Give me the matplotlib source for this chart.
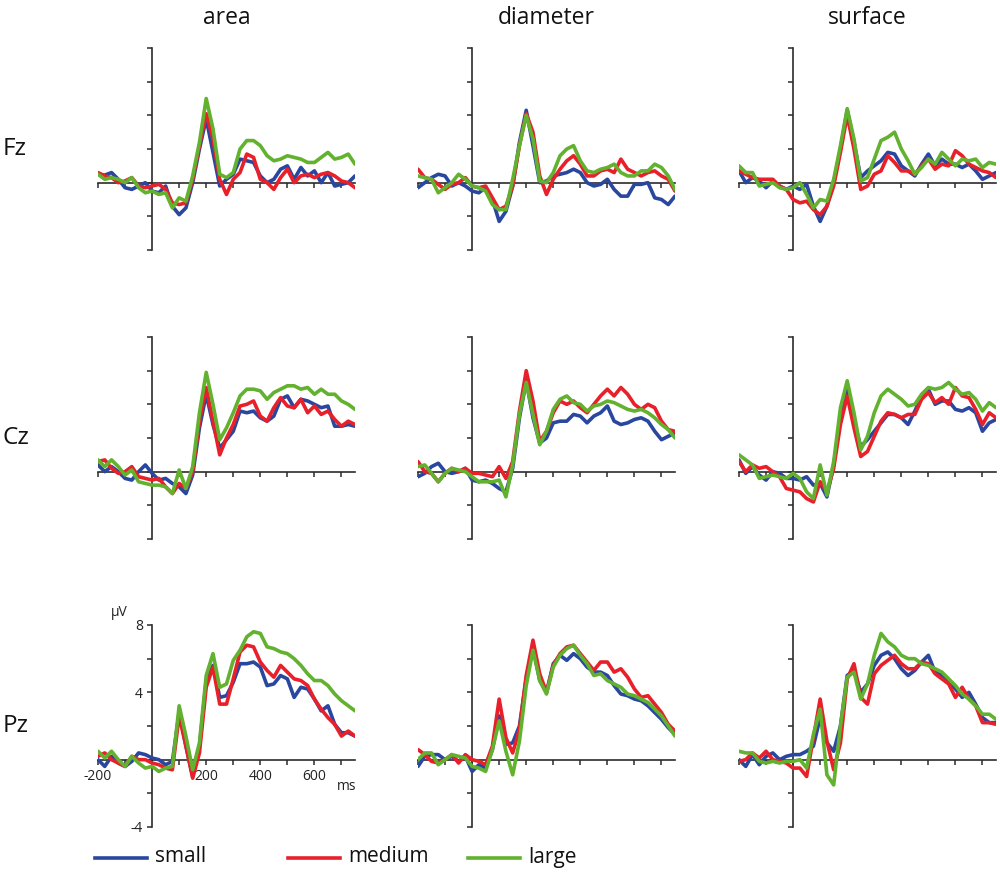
import numpy as np
import matplotlib
matplotlib.use("Agg")
import matplotlib.pyplot as plt
from matplotlib.lines import Line2D

plt.rcParams['font.family'] = ['Open Sans', 'DejaVu Sans']

# ---------------- data ----------------
TIMES = list(range(-200, 751, 25))          # ms
COLUMNS = ["area", "diameter", "surface"]
ROWS = ["Fz", "Cz", "Pz"]
CONDITIONS = ["small", "medium", "large"]
COLORS = ["#2a47a0", "#e8202a", "#62b22f"]

FZ_AREA_SMALL = [0.5, 0.45, 0.6, 0.2, -0.3, -0.4, -0.2, 0.0, -0.5, -0.6, -0.2, -1.4, -1.9, -1.5, 0.0, 2.0, 3.8, 1.8, -0.2, 0.2, 0.5, 1.4, 1.3, 1.2, 0.4, 0.0, 0.2, 0.8, 1.0, 0.2, 0.9, 0.4, 0.7, 0.0, 0.6, -0.2, -0.1, 0.0, 0.4]
FZ_AREA_MEDIUM = [0.6, 0.4, 0.3, 0.0, 0.1, 0.3, -0.2, -0.3, -0.2, -0.1, -0.4, -1.2, -1.3, -1.2, 0.2, 2.2, 4.1, 2.6, 0.2, -0.7, 0.2, 0.6, 1.7, 1.5, 0.2, 0.0, -0.4, 0.3, 0.8, 0.0, 0.4, 0.5, 0.3, 0.5, 0.6, 0.4, 0.1, 0.0, -0.3]
FZ_AREA_LARGE = [0.5, 0.2, 0.3, 0.2, 0.0, 0.3, -0.3, -0.6, -0.5, -0.7, -0.6, -1.5, -0.9, -1.1, 0.4, 2.4, 5.0, 3.2, 0.5, 0.3, 0.6, 2.0, 2.5, 2.5, 2.2, 1.6, 1.3, 1.4, 1.6, 1.5, 1.4, 1.2, 1.2, 1.5, 1.8, 1.4, 1.5, 1.7, 1.1]

FZ_DIAM_SMALL = [-0.3, 0.0, 0.3, 0.5, 0.4, -0.2, 0.0, -0.2, -0.5, -0.6, -0.3, -1.0, -2.3, -1.7, -0.2, 2.4, 4.3, 2.2, 0.0, 0.1, 0.4, 0.5, 0.6, 0.8, 0.6, 0.0, -0.2, -0.1, 0.2, -0.4, -0.8, -0.8, -0.1, -0.1, 0.0, -0.9, -1.0, -1.3, -0.8]
FZ_DIAM_MEDIUM = [0.8, 0.3, 0.2, -0.1, -0.4, -0.1, 0.0, 0.3, -0.2, -0.3, -0.2, -0.9, -1.6, -1.4, -0.2, 2.2, 4.1, 3.0, 0.4, -0.7, 0.2, 0.8, 1.3, 1.6, 1.1, 0.4, 0.4, 0.7, 0.8, 0.6, 1.4, 0.8, 0.6, 0.4, 0.6, 0.7, 0.4, 0.2, -0.5]
FZ_DIAM_LARGE = [0.4, 0.3, 0.2, -0.6, -0.3, 0.0, 0.5, 0.2, -0.2, -0.3, -0.5, -1.3, -1.6, -1.6, 0.2, 2.2, 4.0, 2.6, 0.1, 0.0, 0.6, 1.6, 2.0, 2.2, 1.3, 0.7, 0.6, 0.8, 0.9, 1.1, 0.6, 0.4, 0.4, 0.7, 0.7, 1.1, 0.9, 0.4, -0.4]

FZ_SURF_SMALL = [0.7, 0.0, 0.3, 0.1, -0.3, 0.1, -0.2, -0.4, -0.2, -0.4, -0.1, -1.4, -2.3, -1.4, 0.0, 2.0, 4.3, 2.4, 0.3, 0.7, 1.0, 1.3, 1.8, 1.7, 1.0, 0.7, 0.4, 1.1, 1.7, 1.0, 1.4, 1.1, 1.1, 0.9, 1.1, 0.7, 0.2, 0.4, 0.6]
FZ_SURF_MEDIUM = [0.7, 0.5, 0.3, 0.2, 0.2, 0.2, -0.2, -0.4, -1.0, -1.2, -1.1, -1.6, -1.9, -1.4, -0.2, 1.8, 4.0, 2.0, -0.4, -0.2, 0.5, 0.7, 1.6, 1.2, 0.7, 0.7, 0.5, 1.0, 1.4, 0.8, 1.1, 1.0, 1.9, 1.6, 1.1, 0.9, 0.7, 0.6, 0.3]
FZ_SURF_LARGE = [1.0, 0.6, 0.6, -0.2, -0.1, 0.0, -0.3, -0.4, -0.3, 0.0, -0.7, -1.5, -1.0, -1.1, 0.2, 2.2, 4.4, 2.6, 0.1, 0.3, 1.4, 2.5, 2.7, 3.0, 2.0, 1.3, 0.5, 0.9, 1.4, 1.1, 1.8, 1.4, 1.0, 1.4, 1.3, 1.4, 0.9, 1.2, 1.1]

CZ_AREA_SMALL = [0.4, 0.0, 0.3, 0.0, -0.4, -0.5, 0.0, 0.4, -0.1, -0.5, -0.4, -0.7, -0.9, -1.3, -0.2, 2.6, 4.6, 2.8, 1.4, 1.9, 2.4, 3.6, 3.5, 3.6, 3.2, 3.0, 3.3, 4.3, 4.5, 3.8, 4.3, 4.2, 4.0, 3.8, 3.9, 2.7, 2.7, 2.8, 2.7]
CZ_AREA_MEDIUM = [0.6, 0.7, 0.2, -0.1, 0.0, 0.3, -0.3, -0.4, -0.5, -0.4, -0.9, -1.3, -0.7, -1.0, 0.0, 3.0, 5.0, 3.0, 1.0, 2.0, 2.8, 3.9, 4.0, 4.2, 3.3, 3.0, 3.8, 4.4, 3.9, 3.8, 4.3, 3.5, 3.9, 3.4, 3.6, 3.1, 2.7, 3.0, 2.8]
CZ_AREA_LARGE = [0.7, 0.3, 0.7, 0.3, -0.2, 0.1, -0.6, -0.7, -0.8, -0.8, -0.9, -1.3, 0.1, -1.0, 0.3, 3.5, 5.9, 4.0, 1.9, 2.6, 3.5, 4.5, 4.9, 4.9, 4.8, 4.3, 4.7, 4.9, 5.1, 5.1, 4.9, 5.0, 4.6, 4.9, 4.6, 4.6, 4.2, 4.0, 3.7]

CZ_DIAM_SMALL = [-0.3, -0.1, 0.3, 0.5, 0.0, -0.1, 0.0, 0.2, -0.5, -0.6, -0.5, -0.7, -1.0, -1.2, 0.2, 3.2, 5.4, 3.2, 1.7, 2.0, 2.9, 3.0, 3.0, 3.4, 3.3, 2.9, 3.3, 3.5, 3.9, 3.0, 2.8, 2.9, 3.1, 3.2, 3.0, 2.4, 1.9, 2.1, 2.3]
CZ_DIAM_MEDIUM = [0.6, 0.0, -0.1, -0.6, -0.1, 0.2, 0.0, 0.2, -0.1, -0.1, -0.2, -0.3, 0.3, -0.4, 0.6, 3.6, 6.0, 4.2, 1.8, 2.4, 3.5, 4.2, 4.0, 4.2, 3.8, 3.5, 4.0, 4.5, 4.9, 4.5, 5.0, 4.6, 4.0, 3.7, 4.0, 3.8, 3.0, 2.5, 2.4]
CZ_DIAM_LARGE = [0.3, 0.4, -0.1, -0.6, -0.1, 0.2, 0.1, 0.0, -0.3, -0.6, -0.6, -0.6, -0.5, -1.5, 0.4, 3.4, 5.3, 3.4, 1.6, 2.4, 3.7, 4.3, 4.5, 4.1, 4.0, 3.6, 3.9, 4.0, 4.2, 4.1, 3.9, 3.7, 3.6, 3.7, 3.5, 3.2, 2.8, 2.5, 2.0]

CZ_SURF_SMALL = [0.7, -0.1, 0.3, -0.2, -0.5, 0.0, -0.1, -0.4, -0.4, -0.5, -0.3, -0.8, -0.7, -1.5, 0.4, 3.2, 4.9, 3.0, 1.5, 1.9, 2.4, 2.9, 3.4, 3.4, 3.2, 2.8, 3.6, 4.5, 4.9, 4.0, 4.2, 4.2, 3.7, 3.6, 3.8, 3.5, 2.4, 2.9, 3.1]
CZ_SURF_MEDIUM = [0.6, 0.0, 0.4, 0.2, 0.3, 0.0, -0.3, -1.0, -1.1, -1.2, -1.6, -1.8, -0.6, -1.2, 0.2, 2.8, 4.5, 2.6, 0.9, 1.2, 2.1, 3.0, 3.5, 3.4, 3.2, 3.4, 3.4, 4.3, 4.7, 4.1, 4.4, 4.0, 5.0, 4.5, 4.4, 3.7, 2.8, 3.5, 3.2]
CZ_SURF_LARGE = [1.0, 0.7, 0.4, -0.4, -0.3, -0.2, -0.3, -0.4, -0.1, -0.4, -1.2, -1.6, 0.4, -1.4, 0.6, 3.8, 5.4, 3.5, 1.3, 2.1, 3.5, 4.5, 4.9, 4.6, 4.3, 3.9, 4.0, 4.6, 5.0, 4.9, 5.0, 5.3, 4.9, 4.6, 4.7, 4.3, 3.6, 4.1, 3.8]

PZ_AREA_SMALL = [0.0, -0.4, 0.2, -0.2, -0.4, -0.1, 0.4, 0.3, 0.1, 0.0, -0.3, -0.1, 2.8, 0.8, -1.0, 0.8, 4.7, 5.6, 3.7, 3.8, 4.6, 5.7, 5.7, 5.8, 5.5, 4.4, 4.5, 5.0, 4.8, 3.7, 4.3, 4.2, 3.6, 2.9, 3.2, 2.1, 1.6, 1.6, 1.4]
PZ_AREA_MEDIUM = [0.2, 0.4, 0.0, -0.2, -0.4, 0.2, 0.0, 0.0, -0.2, -0.3, -0.5, -0.6, 2.6, 0.8, -1.1, 0.4, 4.3, 5.5, 3.3, 3.3, 4.8, 6.4, 6.8, 6.7, 5.8, 5.3, 4.9, 5.6, 5.2, 4.8, 4.7, 4.4, 3.6, 3.0, 2.5, 2.1, 1.4, 1.7, 1.4]
PZ_AREA_LARGE = [0.5, 0.1, 0.5, 0.0, -0.4, 0.2, -0.2, -0.5, -0.4, -0.7, -0.5, -0.4, 3.2, 1.4, -0.6, 1.0, 5.0, 6.3, 4.3, 4.5, 5.9, 6.5, 7.3, 7.6, 7.5, 6.7, 6.6, 6.4, 6.3, 6.0, 5.6, 5.1, 4.7, 4.7, 4.4, 3.9, 3.5, 3.2, 2.9]

PZ_DIAM_SMALL = [-0.4, 0.2, 0.3, 0.3, 0.0, 0.2, -0.1, 0.2, -0.7, -0.3, -0.5, 0.6, 2.6, 0.9, 1.0, 2.0, 4.8, 6.7, 4.7, 4.0, 5.7, 6.2, 5.9, 6.3, 6.0, 5.5, 5.2, 5.2, 5.0, 4.4, 3.9, 3.8, 3.6, 3.5, 3.2, 2.8, 2.4, 1.9, 1.5]
PZ_DIAM_MEDIUM = [0.6, 0.3, -0.1, -0.2, 0.0, 0.3, -0.2, 0.3, 0.0, -0.1, -0.3, 0.8, 3.6, 1.3, 0.4, 1.8, 5.0, 7.1, 5.1, 4.0, 5.6, 6.3, 6.7, 6.8, 6.3, 5.8, 5.3, 5.8, 5.8, 5.2, 5.4, 4.9, 4.2, 3.7, 3.8, 3.3, 2.8, 2.1, 1.7]
PZ_DIAM_LARGE = [0.0, 0.4, 0.4, -0.3, 0.0, 0.3, 0.2, 0.1, -0.4, -0.5, -0.7, 0.6, 2.3, 0.5, -0.9, 1.1, 4.4, 6.5, 4.7, 3.9, 5.5, 6.2, 6.6, 6.8, 6.2, 5.7, 5.0, 5.1, 4.7, 4.5, 4.3, 3.9, 3.8, 3.6, 3.4, 3.0, 2.6, 2.0, 1.4]

PZ_SURF_SMALL = [0.0, -0.4, 0.3, -0.3, 0.2, 0.4, 0.0, 0.2, 0.3, 0.3, 0.5, 0.8, 2.5, 1.0, 0.5, 2.0, 5.0, 5.3, 4.0, 4.5, 5.6, 6.2, 6.4, 6.0, 5.4, 5.0, 5.3, 5.8, 6.2, 5.2, 5.0, 4.6, 4.2, 3.7, 4.0, 3.3, 2.5, 2.2, 2.2]
PZ_SURF_MEDIUM = [-0.1, 0.0, 0.4, 0.1, 0.5, 0.0, -0.1, -0.2, -0.5, -0.5, -1.0, 1.3, 3.6, 1.1, -0.6, 1.0, 4.8, 5.7, 3.7, 3.3, 5.1, 5.6, 5.9, 6.2, 5.7, 5.4, 5.4, 5.8, 5.7, 5.1, 4.8, 4.5, 3.7, 4.3, 3.6, 3.2, 2.2, 2.2, 2.1]
PZ_SURF_LARGE = [0.5, 0.4, 0.4, -0.1, -0.2, -0.1, -0.2, -0.1, -0.1, 0.0, -0.5, 1.5, 3.0, -0.9, -1.5, 2.0, 4.9, 5.2, 3.6, 4.5, 6.2, 7.5, 7.0, 6.7, 6.2, 6.0, 6.0, 5.7, 5.6, 5.4, 5.2, 4.8, 4.4, 3.9, 3.6, 3.2, 2.7, 2.7, 2.4]

WAVES = [
    [[FZ_AREA_SMALL, FZ_AREA_MEDIUM, FZ_AREA_LARGE],
     [FZ_DIAM_SMALL, FZ_DIAM_MEDIUM, FZ_DIAM_LARGE],
     [FZ_SURF_SMALL, FZ_SURF_MEDIUM, FZ_SURF_LARGE]],
    [[CZ_AREA_SMALL, CZ_AREA_MEDIUM, CZ_AREA_LARGE],
     [CZ_DIAM_SMALL, CZ_DIAM_MEDIUM, CZ_DIAM_LARGE],
     [CZ_SURF_SMALL, CZ_SURF_MEDIUM, CZ_SURF_LARGE]],
    [[PZ_AREA_SMALL, PZ_AREA_MEDIUM, PZ_AREA_LARGE],
     [PZ_DIAM_SMALL, PZ_DIAM_MEDIUM, PZ_DIAM_LARGE],
     [PZ_SURF_SMALL, PZ_SURF_MEDIUM, PZ_SURF_LARGE]],
]

Y_TICKS = [-4, -2, 0, 2, 4, 6, 8]
Y_TICK_LABELS = ["-4", "", "", "", "4", "", "8"]
X_TICKS = [-200, -100, 0, 100, 200, 300, 400, 500, 600, 700]
X_TICK_LABELS = ["-200", "", "", "", "200", "", "400", "", "600", ""]

# ---------------- layout ----------------
W, H = 1000, 873
fig = plt.figure(figsize=(W / 100, H / 100), dpi=100)

def fx(px):
    return px / W

def fy(py):
    return 1 - py / H

COL_LEFT = [98, 418, 739]
ROW_TOP = [48, 337, 625]
PW, PH = 257, 202
AX_COLOR = "#2b2b2b"

for r in range(3):
    for c in range(3):
        ax = fig.add_axes([fx(COL_LEFT[c]), fy(ROW_TOP[r] + PH), PW / W, PH / H])
        for k in range(3):
            ax.plot(TIMES, WAVES[r][c][k], color=COLORS[k], lw=2.6,
                    solid_joinstyle="round", solid_capstyle="round", zorder=3 + k)
        ax.set_xlim(-200, 750)
        ax.set_ylim(-4, 8)
        ax.set_facecolor("none")
        for s in ["top", "right"]:
            ax.spines[s].set_visible(False)
        ax.spines["left"].set_position(("data", 0))
        ax.spines["bottom"].set_position(("data", 0))
        for s in ["left", "bottom"]:
            ax.spines[s].set_color(AX_COLOR)
            ax.spines[s].set_linewidth(1.2)
            ax.spines[s].set_zorder(2)
        ax.set_yticks(Y_TICKS)
        ax.set_xticks(X_TICKS)
        ax.tick_params(axis="both", direction="out", length=3.5, width=1.1,
                       color=AX_COLOR, labelsize=10, labelcolor="#222222", pad=3)
        if r == 2 and c == 0:
            ax.set_yticklabels(Y_TICK_LABELS)
            ax.set_xticklabels(X_TICK_LABELS)
        else:
            ax.set_yticklabels([])
            ax.set_xticklabels([])

# unit labels
fig.text(fx(119), fy(612), "\u00b5V", ha="center", va="center", fontsize=10, color="#222222")
fig.text(fx(347), fy(787), "ms", ha="center", va="center", fontsize=10, color="#222222")

# column titles
for c, name in enumerate(COLUMNS):
    fig.text(fx(COL_LEFT[c] + PW / 2), fy(18), name, ha="center", va="center",
             fontsize=16.5, color="#111111")

# row labels
for r, name in enumerate(ROWS):
    fig.text(fx(3), fy(ROW_TOP[r] + 101), name, ha="left", va="center",
             fontsize=17.5, color="#111111")

# legend
LEG_LINE_X = [(95, 147), (288, 340), (468, 520)]
LEG_Y = 858
for k, name in enumerate(CONDITIONS):
    x0, x1 = LEG_LINE_X[k]
    fig.add_artist(Line2D([fx(x0), fx(x1)], [fy(LEG_Y), fy(LEG_Y)],
                          transform=fig.transFigure, color=COLORS[k], lw=2.6))
    fig.text(fx(x1 + 8), fy(LEG_Y - 1), name, ha="left", va="center",
             fontsize=15, color="#111111")

fig.savefig("out.png", dpi=100, facecolor="white")
